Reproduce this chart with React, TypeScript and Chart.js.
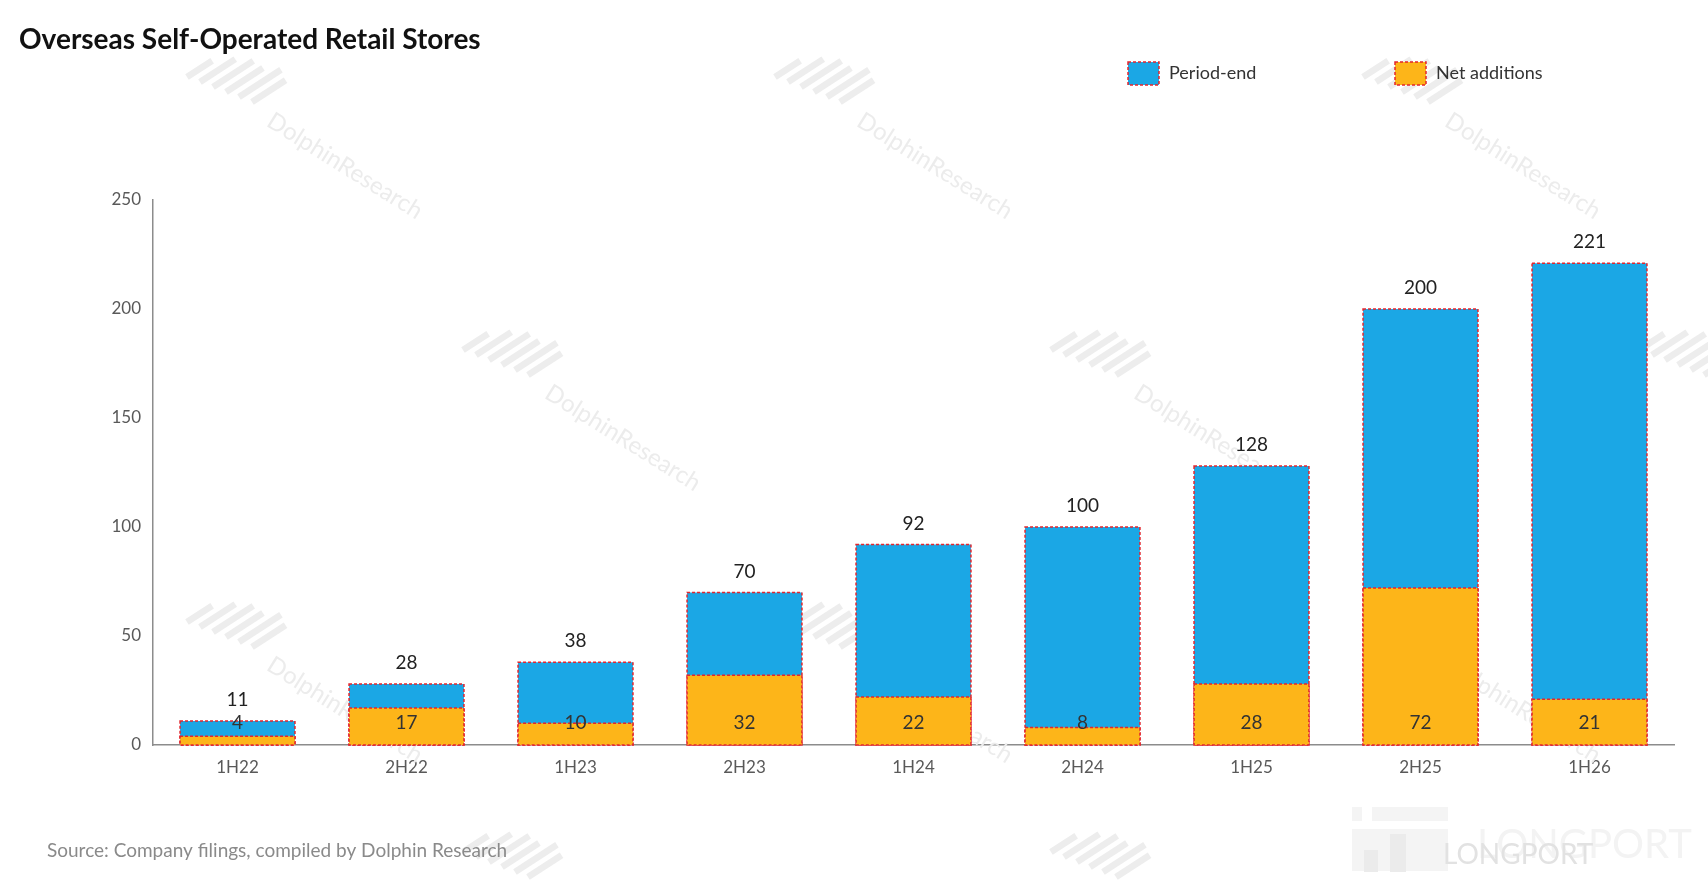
import React, { useEffect, useRef } from 'react';
import { Chart, registerables } from 'chart.js';

Chart.register(...registerables);

const categories = ['1H22', '2H22', '1H23', '2H23', '1H24', '2H24', '1H25', '2H25', '1H26'];
const periodEnd = [11, 28, 38, 70, 92, 100, 128, 200, 221];
const netAdditions = [4, 17, 10, 32, 22, 8, 28, 72, 21];
const seriesNames = ['Period-end', 'Net additions'];
const yMax = 250;
const yStep = 50;

const TITLE = 'Overseas Self-Operated Retail Stores';
const SOURCE = 'Source: Company filings, compiled by Dolphin Research';

const W = 1708;
const H = 888;
const BLUE = '#1BA7E5';
const ORANGE = '#FDB519';
const RED = '#E3262D';
const FONT = 'Lato, "Noto Sans", sans-serif';

function dashedRect(ctx: CanvasRenderingContext2D, x: number, y: number, w: number, h: number) {
  ctx.save();
  ctx.strokeStyle = RED;
  ctx.lineWidth = 1.5;
  ctx.setLineDash([3, 2]);
  ctx.strokeRect(x, y, w, h);
  ctx.restore();
}

function drawIcon(ctx: CanvasRenderingContext2D, cx: number, cy: number) {
  const lengths = [30, 42, 48, 44, 50, 40];
  const dx = Math.cos((33 * Math.PI) / 180);
  const dy = -Math.sin((33 * Math.PI) / 180);
  ctx.save();
  ctx.strokeStyle = '#ededed';
  ctx.lineWidth = 6.5;
  ctx.lineCap = 'butt';
  const ox = cx - 51;
  const oy = cy + 1;
  lengths.forEach((L, i) => {
    const sx = ox + i * 13;
    const sy = oy + i * 5;
    ctx.beginPath();
    ctx.moveTo(sx, sy);
    ctx.lineTo(sx + L * dx, sy + L * dy);
    ctx.stroke();
  });
  ctx.restore();
}

function drawWatermarkText(ctx: CanvasRenderingContext2D, cx: number, cy: number) {
  ctx.save();
  ctx.translate(cx, cy);
  ctx.rotate((32 * Math.PI) / 180);
  ctx.font = `24px ${FONT}`;
  ctx.fillStyle = '#ececec';
  ctx.textAlign = 'center';
  ctx.textBaseline = 'middle';
  ctx.fillText('DolphinResearch', 0, 0);
  ctx.restore();
}

const decoPlugin = {
  id: 'deco',
  beforeDraw(chart: any) {
    const ctx = chart.ctx as CanvasRenderingContext2D;
    ctx.save();
    ctx.fillStyle = '#ffffff';
    ctx.fillRect(0, 0, chart.width, chart.height);
    ctx.restore();
  },
  beforeDatasetsDraw(chart: any) {
    const ctx = chart.ctx as CanvasRenderingContext2D;
    const texts = [
      [345, 166], [935, 166], [1523, 166],
      [623, 438], [1212, 438],
      [345, 710], [935, 710], [1523, 710],
    ];
    texts.forEach(([x, y]) => drawWatermarkText(ctx, x, y));
    const icons = [
      [238, 76], [826, 76], [1414, 76],
      [514, 349], [1102, 349], [1690, 349],
      [238, 621], [826, 621], [1414, 621],
      [514, 851], [1102, 851],
    ];
    icons.forEach(([x, y]) => drawIcon(ctx, x, y));
    // Longport logo
    ctx.save();
    ctx.fillStyle = '#f4f4f4';
    ctx.fillRect(1352, 807, 10, 14);
    ctx.fillRect(1372, 807, 76, 14);
    ctx.fillRect(1352, 829, 96, 42);
    ctx.fillStyle = '#ebebeb';
    ctx.fillRect(1364, 850, 14, 22);
    ctx.fillRect(1390, 834, 16, 38);
    ctx.font = `40px ${FONT}`;
    ctx.fillStyle = '#f3f3f3';
    ctx.textBaseline = 'middle';
    ctx.fillText('LONGPORT', 1477, 845);
    ctx.font = `28px ${FONT}`;
    ctx.fillStyle = '#e2e2e2';
    ctx.fillText('LONGPORT', 1443, 855);
    ctx.restore();
  },
  afterDatasetDraw(chart: any, args: any) {
    const ctx = chart.ctx as CanvasRenderingContext2D;
    const meta = args.meta;
    meta.data.forEach((el: any) => {
      const p = el.getProps(['x', 'y', 'base', 'width'], true);
      const top = Math.min(p.y, p.base);
      const h = Math.abs(p.base - p.y);
      dashedRect(ctx, p.x - p.width / 2, top, p.width, h);
    });
  },
  afterDatasetsDraw(chart: any) {
    const ctx = chart.ctx as CanvasRenderingContext2D;
    const zeroY = chart.scales.y.getPixelForValue(0);
    ctx.save();
    ctx.font = `19px ${FONT}`;
    ctx.fillStyle = '#222222';
    ctx.textAlign = 'center';
    ctx.textBaseline = 'middle';
    const m0 = chart.getDatasetMeta(0);
    m0.data.forEach((el: any, i: number) => {
      const p = el.getProps(['x', 'y'], true);
      ctx.fillText(String(periodEnd[i]), p.x, p.y - 21);
    });
    const m1 = chart.getDatasetMeta(1);
    ctx.fillStyle = '#333333';
    m1.data.forEach((el: any, i: number) => {
      const p = el.getProps(['x'], true);
      ctx.fillText(String(netAdditions[i]), p.x, zeroY - 22);
    });
    ctx.restore();
  },
  afterDraw(chart: any) {
    const ctx = chart.ctx as CanvasRenderingContext2D;
    ctx.save();
    // title
    ctx.font = `bold 28px ${FONT}`;
    ctx.fillStyle = '#111111';
    ctx.textAlign = 'left';
    ctx.textBaseline = 'middle';
    ctx.fillText(TITLE, 19, 40);
    // legend
    const colors = [BLUE, ORANGE];
    const boxX = [1128, 1395];
    ctx.font = `18px ${FONT}`;
    seriesNames.forEach((name, i) => {
      ctx.fillStyle = colors[i];
      ctx.fillRect(boxX[i], 62, 31, 23);
      dashedRect(ctx, boxX[i], 62, 31, 23);
      ctx.fillStyle = '#333333';
      ctx.fillText(name, boxX[i] + 41, 73);
    });
    // source
    ctx.font = `19px ${FONT}`;
    ctx.fillStyle = '#8a8a8a';
    ctx.fillText(SOURCE, 47, 851);
    ctx.restore();
  },
};

export default function App() {
  const ref = useRef<HTMLCanvasElement>(null);
  useEffect(() => {
    document.body.style.margin = '0';
    const canvas = ref.current;
    if (!canvas) return;
    const chart = new Chart(canvas, {
      type: 'bar',
      data: {
        labels: categories,
        datasets: [
          {
            label: seriesNames[0],
            data: periodEnd,
            backgroundColor: BLUE,
            borderWidth: 0,
            grouped: false,
            order: 1,
            categoryPercentage: 0.68,
            barPercentage: 1,
          } as any,
          {
            label: seriesNames[1],
            data: netAdditions,
            backgroundColor: ORANGE,
            borderWidth: 0,
            grouped: false,
            order: 0,
            categoryPercentage: 0.68,
            barPercentage: 1,
          } as any,
        ],
      },
      options: {
        responsive: false,
        animation: false,
        devicePixelRatio: 1,
        layout: { padding: { top: 200, right: 34, bottom: 0, left: 0 } },
        plugins: {
          legend: { display: false },
          title: { display: false },
          tooltip: { enabled: false },
        },
        scales: {
          x: {
            grid: { display: false, drawTicks: false },
            border: { display: true, color: '#8c8c8c', width: 1.5 },
            ticks: { font: { family: FONT, size: 17 }, color: '#595959', padding: 12 },
            afterFit: (s: any) => { s.height = H - 745; },
          },
          y: {
            min: 0,
            max: yMax,
            grid: { display: false, drawTicks: false },
            border: { display: true, color: '#8c8c8c', width: 1.5 },
            ticks: { stepSize: yStep, font: { family: FONT, size: 17 }, color: '#595959', padding: 12 },
            afterFit: (s: any) => { s.width = 153; },
          },
        },
      },
      plugins: [decoPlugin],
    });
    return () => chart.destroy();
  }, []);
  return (
    <div style={{ position: 'absolute', left: 0, top: 0, width: W, height: H, background: '#fff' }}>
      <canvas ref={ref} width={W} height={H} style={{ width: W, height: H, display: 'block' }} />
    </div>
  );
}
